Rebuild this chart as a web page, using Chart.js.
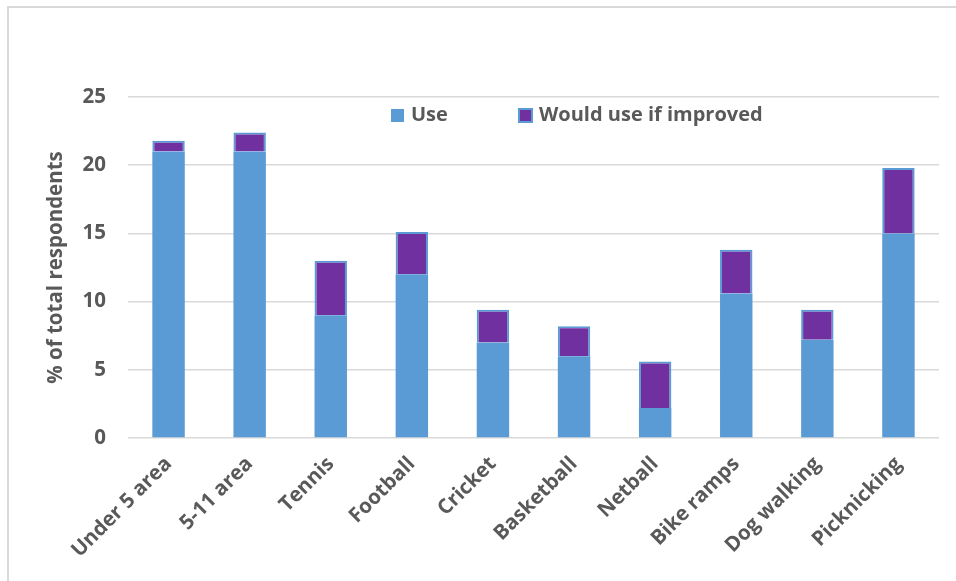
<!DOCTYPE html>
<html lang="en">
<head>
<meta charset="UTF-8">
<title>Park use</title>
<script src="https://cdn.jsdelivr.net/npm/chart.js"></script>
<style>
    body { margin: 0; background: #fff; }
    #wrap { position: relative; width: 956px; height: 581px; }
    #frame { position: absolute; left: 7px; top: 6px; width: 960px; height: 600px;
             border-top: 2px solid #d9d9d9; border-left: 2px solid #d9d9d9; }
    canvas { position: absolute; left: 0; top: 0; }
</style>
</head>
<body>
<div id="wrap">
    <div id="frame"></div>
    <canvas id="myChart" width="956" height="581"></canvas>
</div>
<script>
    // facilities, % of total respondents
    var categorias = ['Under 5 area', '5-11 area', 'Tennis', 'Football', 'Cricket',
                      'Basketball', 'Netball', 'Bike ramps', 'Dog walking', 'Picknicking'];
    var usa = [21, 21, 9, 12, 7, 6, 2.2, 10.6, 7.2, 15];
    var usariaSeMelhorado = [0.8, 1.4, 4, 3.1, 2.4, 2.2, 3.4, 3.2, 2.2, 4.8];
    var ticksY = [0, 5, 10, 15, 20, 25];

    var cinza = '#595959';
    var azul = '#5B9BD5';
    var roxo = '#7030A0';
    var fonte = { family: "'Open Sans'", size: 20.5, weight: 'bold' };

    // legend drawn inside the plot, like the original
    const legendaDentro = {
        id: 'legendaDentro',
        afterDraw(chart) {
            const ctx = chart.ctx;
            const pos = [391, 519];
            ctx.save();
            ctx.font = "bold 20px 'Open Sans'";
            ctx.textBaseline = 'middle';
            chart.data.datasets.forEach(function (ds, i) {
                var x = pos[i];
                ctx.fillStyle = ds.backgroundColor;
                ctx.fillRect(x, 109, 13, 13);
                if (ds.borderWidth) {
                    ctx.strokeStyle = azul;
                    ctx.lineWidth = 2;
                    ctx.strokeRect(x, 109, 13, 13);
                }
                ctx.fillStyle = cinza;
                ctx.fillText(ds.label, x + 20, 115);
            });
            ctx.restore();
        }
    };

    const data = {
        labels: categorias,
        datasets: [{
            label: 'Use',
            data: usa,
            backgroundColor: azul,
            borderWidth: 0
        }, {
            label: 'Would use if improved',
            data: usariaSeMelhorado,
            backgroundColor: roxo,
            borderColor: azul,
            borderWidth: 2
        }]
    };

    const config = {
        type: 'bar',
        data: data,
        options: {
            responsive: false,
            animation: false,
            layout: { padding: { left: 44, top: 97, right: 17, bottom: 0 } },
            datasets: { bar: { barPercentage: 0.4, categoryPercentage: 1 } },
            plugins: {
                legend: { display: false },
                tooltip: { enabled: false }
            },
            scales: {
                x: {
                    stacked: true,
                    grid: { display: false },
                    border: { display: false },
                    ticks: { color: cinza, font: fonte, minRotation: 45, maxRotation: 45, padding: 6 },
                    afterFit: function (scale) { scale.height = 143; }
                },
                y: {
                    stacked: true,
                    min: 0,
                    max: 25,
                    afterBuildTicks: function (scale) {
                        scale.ticks = ticksY.map(function (v) { return { value: v }; });
                    },
                    grid: { color: '#d9d9d9', lineWidth: 1.5, drawTicks: false },
                    border: { display: false },
                    ticks: { color: cinza, font: fonte, padding: 22 },
                    title: {
                        display: true,
                        text: '% of total respondents',
                        color: cinza,
                        font: fonte,
                        padding: 0
                    },
                    afterFit: function (scale) { scale.width = 84; }
                }
            }
        },
        plugins: [legendaDentro]
    };

    const myChart = new Chart(document.getElementById('myChart'), config);
</script>
</body>
</html>
